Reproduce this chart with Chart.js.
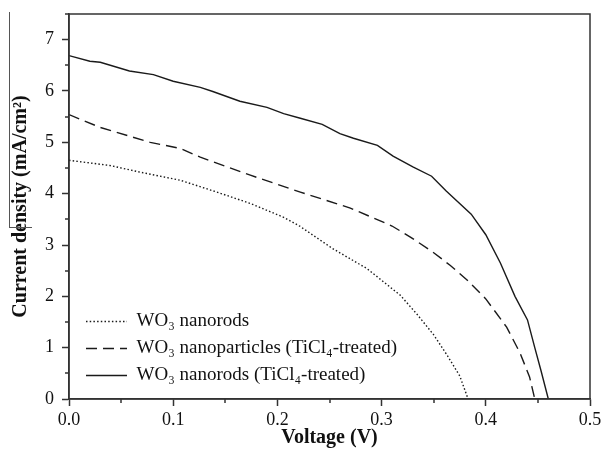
<!DOCTYPE html>
<html>
<head>
<meta charset="utf-8">
<script src="https://cdn.jsdelivr.net/npm/chart.js@4/dist/chart.umd.min.js"></script>
<style>
  body { margin: 0; background: #fff; }
  #wrap { position: relative; width: 602px; height: 457px; }
  #mark { position: absolute; left: 9px; top: 12px; width: 22px; height: 215px;
          border-left: 1px solid #555; border-bottom: 1px solid #555; }
</style>
</head>
<body>
<div id="wrap">
  <canvas id="c" width="602" height="457"></canvas>
  <div id="mark"></div>
</div>
<script>
// J-V curves
const rodsV = [0, 0.039, 0.068, 0.107, 0.142, 0.174, 0.206, 0.222, 0.253, 0.286, 0.318, 0.334, 0.35, 0.363, 0.375, 0.383];
const rodsJ = [4.65, 4.55, 4.42, 4.26, 4.03, 3.81, 3.54, 3.36, 2.93, 2.54, 2.02, 1.65, 1.25, 0.85, 0.45, 0];

const particlesV = [0, 0.03, 0.078, 0.107, 0.126, 0.174, 0.222, 0.27, 0.31, 0.328, 0.35, 0.366, 0.382, 0.40, 0.42, 0.433, 0.442, 0.447];
const particlesJ = [5.54, 5.29, 5.0, 4.88, 4.71, 4.36, 4.03, 3.72, 3.37, 3.15, 2.85, 2.60, 2.32, 1.95, 1.40, 0.89, 0.43, 0];

const rodsTiV = [0, 0.02, 0.03, 0.058, 0.081, 0.1, 0.126, 0.138, 0.164, 0.19, 0.206, 0.222, 0.243, 0.26, 0.273, 0.296, 0.311, 0.33, 0.348, 0.362, 0.386, 0.40, 0.414, 0.428, 0.44, 0.447, 0.453, 0.46];
const rodsTiJ = [6.69, 6.58, 6.56, 6.39, 6.32, 6.19, 6.07, 5.99, 5.80, 5.68, 5.56, 5.47, 5.35, 5.17, 5.08, 4.94, 4.73, 4.52, 4.34, 4.05, 3.60, 3.20, 2.65, 2.0, 1.54, 1.0, 0.55, 0];

const seriesLabels = ["WO\u2083 nanorods", "WO\u2083 nanoparticles (TiCl\u2084-treated)", "WO\u2083 nanorods (TiCl\u2084-treated)"];

const serif = "'Liberation Serif', 'Times New Roman', serif";
const ink = "#1a1a1a";
const axisCol = "#333";

function pts(xs, ys) {
  return xs.map((v, i) => ({ x: v, y: ys[i] }));
}
const isMajorX = v => Math.abs(v * 10 - Math.round(v * 10)) < 1e-6;
const isMajorY = v => Math.abs(v - Math.round(v)) < 1e-6;

// frame on top/right plus short minor ticks
const framePlugin = {
  id: "frame",
  afterLayout(chart) {
    // put the legend in the lower left corner of the plot
    const lg = chart.legend;
    const a = chart.chartArea;
    lg.left = a.left + 9;
    lg.right = lg.left + lg.width;
    lg.top = a.top;
    lg.bottom = a.bottom - 6;
  },
  afterDraw(chart) {
    const { ctx, chartArea: a, scales: { x, y } } = chart;
    ctx.save();
    ctx.strokeStyle = axisCol;
    ctx.lineWidth = 1.5;
    ctx.strokeRect(a.left, a.top, a.right - a.left, a.bottom - a.top);
    ctx.beginPath();
    x.ticks.forEach(t => {
      if (!isMajorX(t.value)) {
        const px = Math.round(x.getPixelForValue(t.value));
        ctx.moveTo(px, a.bottom);
        ctx.lineTo(px, a.bottom + 4);
      }
    });
    y.ticks.forEach(t => {
      if (!isMajorY(t.value)) {
        const py = Math.round(y.getPixelForValue(t.value));
        ctx.moveTo(a.left, py);
        ctx.lineTo(a.left - 4, py);
      }
    });
    ctx.stroke();
    ctx.restore();
  }
};

new Chart(document.getElementById("c"), {
  type: "line",
  data: {
    datasets: [
      {
        label: seriesLabels[0],
        data: pts(rodsV, rodsJ),
        borderColor: ink,
        borderWidth: 1.4,
        borderDash: [1.5, 2.2],
      },
      {
        label: seriesLabels[1],
        data: pts(particlesV, particlesJ),
        borderColor: ink,
        borderWidth: 1.4,
        borderDash: [11, 6],
      },
      {
        label: seriesLabels[2],
        data: pts(rodsTiV, rodsTiJ),
        borderColor: ink,
        borderWidth: 1.4,
      },
    ],
  },
  options: {
    responsive: false,
    animation: false,
    layout: { padding: { top: 14, right: 12, left: 0, bottom: 0 } },
    elements: { point: { radius: 0, pointStyle: "line" }, line: { tension: 0 } },
    plugins: {
      tooltip: { enabled: false },
      legend: {
        position: "chartArea",
        align: "end",
        labels: {
          usePointStyle: true,
          pointStyle: "line",
          pointStyleWidth: 41,
          padding: 8,
          color: "#111",
          font: { family: serif, size: 19 },
          generateLabels(chart) {
            const items = Chart.defaults.plugins.legend.labels.generateLabels(chart);
            items.forEach(it => {
              const ds = chart.data.datasets[it.datasetIndex];
              it.lineDash = ds.borderDash || [];
              it.lineWidth = ds.borderWidth;
              it.strokeStyle = ds.borderColor;
            });
            return items;
          },
        },
      },
    },
    scales: {
      x: {
        type: "linear",
        min: 0,
        max: 0.5,
        afterFit: s => { s.height = 58; s.paddingLeft = 0; s.paddingRight = 0; },
        ticks: {
          stepSize: 0.05,
          autoSkip: false,
          maxRotation: 0,
          padding: 3,
          color: "#111",
          font: { family: serif, size: 18 },
          callback: v => (isMajorX(v) ? v.toFixed(1) : ""),
        },
        grid: {
          drawOnChartArea: false,
          tickLength: 7,
          tickWidth: 1.5,
          tickColor: c => (c.tick && isMajorX(c.tick.value) ? axisCol : "rgba(0,0,0,0)"),
        },
        border: { color: axisCol, width: 1.5 },
        title: {
          display: true,
          text: "Voltage (V)",
          color: "#111",
          font: { family: serif, size: 20, weight: "bold" },
          padding: { top: 0, bottom: 7 },
        },
      },
      y: {
        min: 0,
        max: 7.5,
        afterFit: s => { s.width = 69; s.paddingTop = 0; s.paddingBottom = 0; },
        ticks: {
          stepSize: 0.5,
          autoSkip: false,
          padding: 8,
          color: "#111",
          font: { family: serif, size: 18 },
          callback: v => (isMajorY(v) ? String(v) : ""),
        },
        grid: {
          drawOnChartArea: false,
          tickLength: 7,
          tickWidth: 1.5,
          tickColor: c => (c.tick && isMajorY(c.tick.value) ? axisCol : "rgba(0,0,0,0)"),
        },
        border: { color: axisCol, width: 1.5 },
        title: {
          display: true,
          text: "Current density (mA/cm\u00b2)",
          color: "#111",
          font: { family: serif, size: 20, weight: "bold" },
          padding: { top: 9, bottom: 0 },
        },
      },
    },
  },
  plugins: [framePlugin],
});
</script>
</body>
</html>
